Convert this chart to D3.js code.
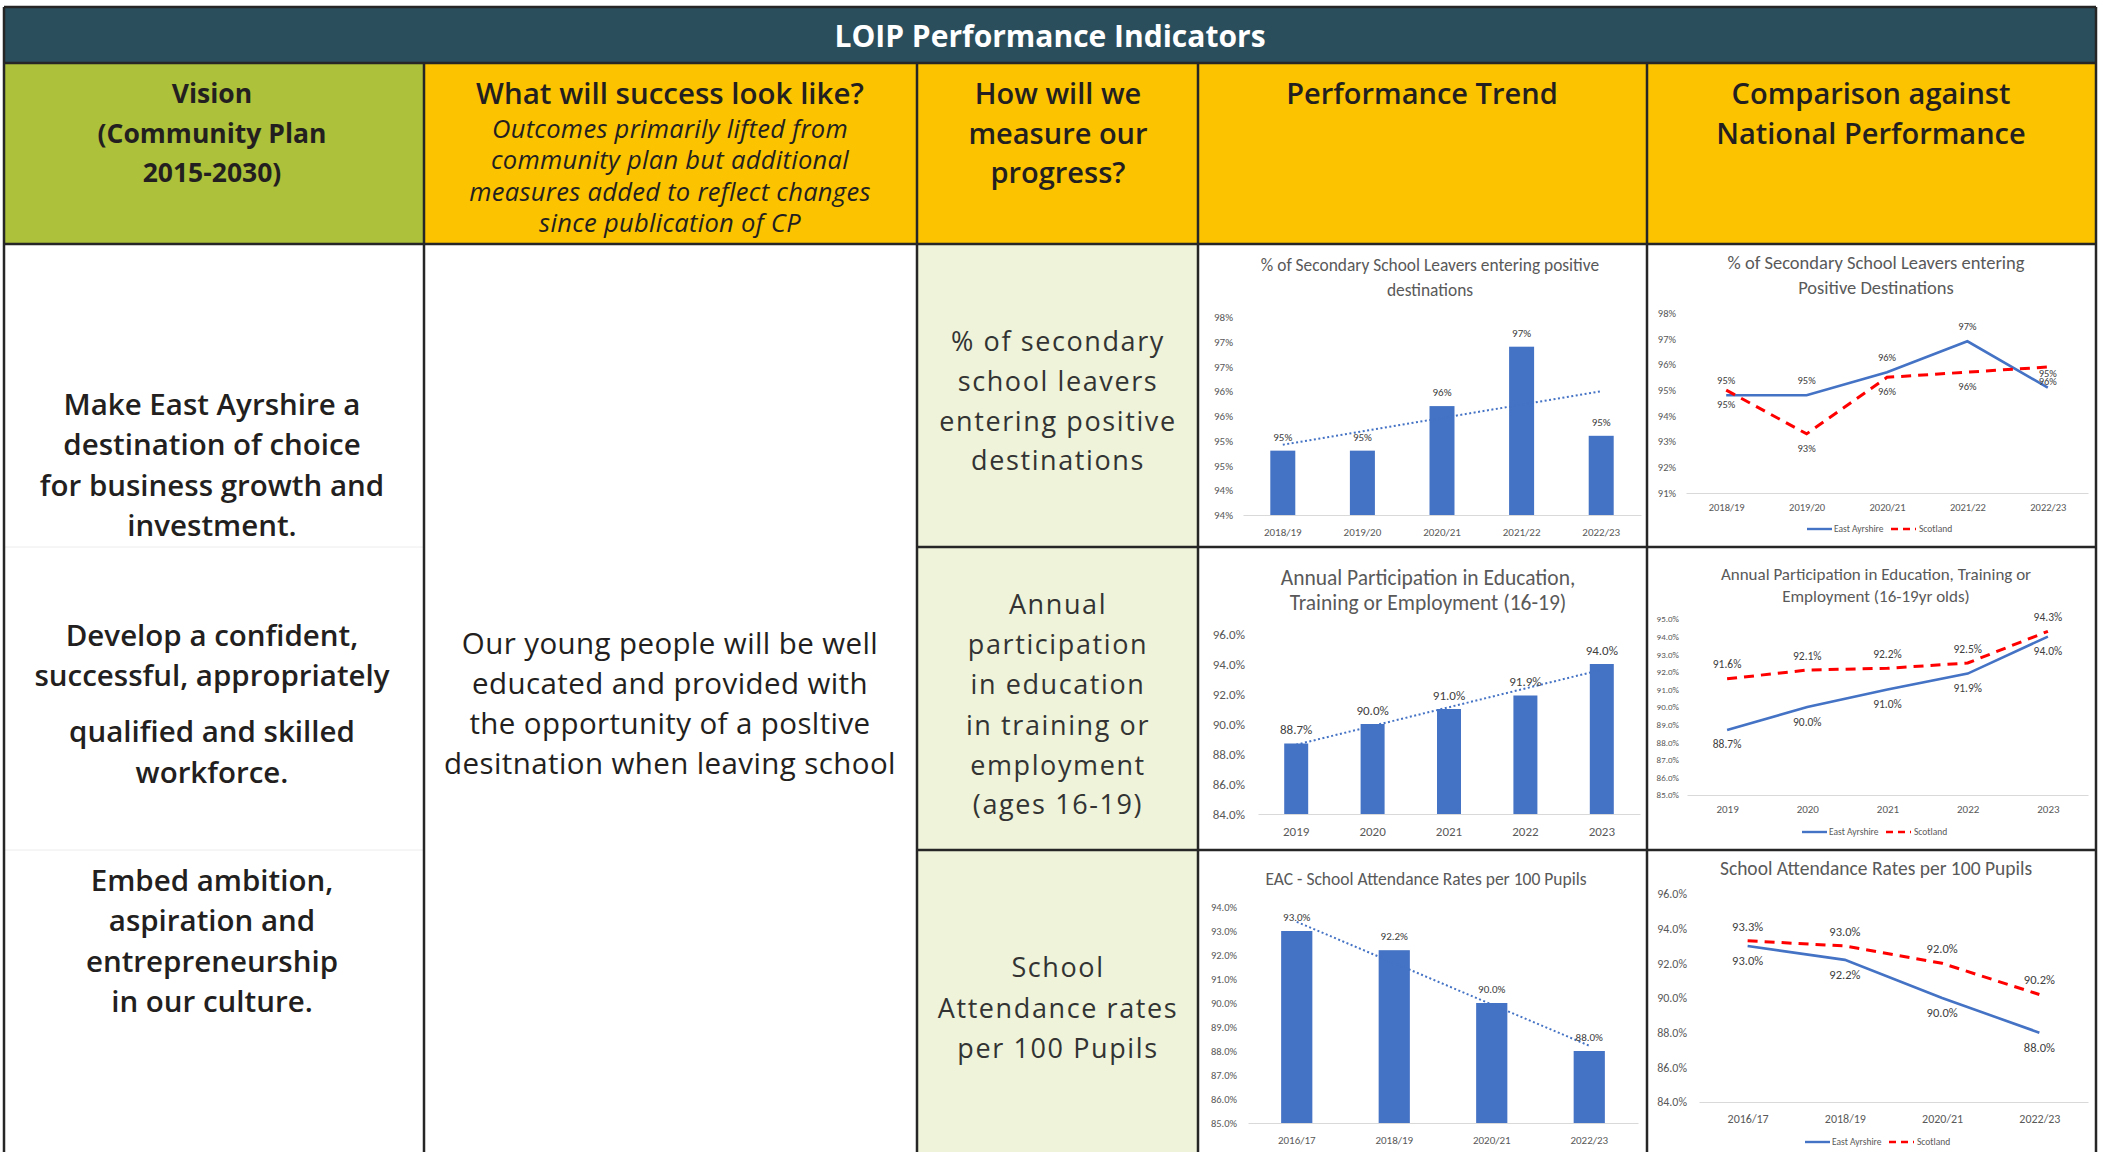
<!DOCTYPE html>
<html>
<head>
<meta charset="utf-8">
<script src="https://cdn.jsdelivr.net/npm/d3@7"></script>
<style>
  body { margin: 0; background: #fff; }
  svg { display: block; }
</style>
</head>
<body>
<div id="wrapper"></div>
<script>
// 1. Data

// positive destinations
const destYears = ['2018/19', '2019/20', '2020/21', '2021/22', '2022/23'];
const destEA = [94.8, 94.8, 95.7, 96.9, 95.1];
const destScot = [95.0, 93.3, 95.5, 95.7, 95.9];
const destTrendTicks = [93.5, 94, 94.5, 95, 95.5, 96, 96.5, 97, 97.5];
const destCompTicks = [91, 92, 93, 94, 95, 96, 97, 98];

// participation 16-19
const partYears = ['2019', '2020', '2021', '2022', '2023'];
const partEA = [88.7, 90.0, 91.0, 91.9, 94.0];
const partScot = [91.6, 92.1, 92.2, 92.5, 94.3];
const partTrendTicks = [84, 86, 88, 90, 92, 94, 96];
const partCompTicks = [85, 86, 87, 88, 89, 90, 91, 92, 93, 94, 95];

// attendance
const attYears = ['2016/17', '2018/19', '2020/21', '2022/23'];
const attEA = [93.0, 92.2, 90.0, 88.0];
const attScot = [93.3, 93.0, 92.0, 90.2];
const attTrendTicks = [85, 86, 87, 88, 89, 90, 91, 92, 93, 94];
const attCompTicks = [84, 86, 88, 90, 92, 94, 96];

const pct0 = v => d3.format('.0f')(v) + '%';
const pct1 = v => d3.format('.1f')(v) + '%';

// 2. Dimensions

const W = 2103, H = 1152;
const cols = [4, 424, 917, 1198, 1647, 2096];
const rows = [7, 63, 244, 547, 850, 1152];

const headFont = '"Open Sans", Lato, sans-serif';
const chartFont = 'Carlito, Lato, "Open Sans", sans-serif';
const blue = '#4472c4';
const red = '#ff0000';

// 3. Draw canvas

const svg = d3.select('#wrapper')
  .append('svg')
  .attr('width', W)
  .attr('height', H);

svg.append('rect').attr('width', W).attr('height', H).attr('fill', '#fff');

// title bar + header cells
svg.append('rect')
  .attr('x', cols[0]).attr('y', rows[0])
  .attr('width', cols[5] - cols[0]).attr('height', rows[1] - rows[0])
  .attr('fill', '#2b4e5c');
svg.append('rect')
  .attr('x', cols[0]).attr('y', rows[1])
  .attr('width', cols[1] - cols[0]).attr('height', rows[2] - rows[1])
  .attr('fill', '#adc13a');
svg.append('rect')
  .attr('x', cols[1]).attr('y', rows[1])
  .attr('width', cols[5] - cols[1]).attr('height', rows[2] - rows[1])
  .attr('fill', '#fcc300');
svg.append('rect')
  .attr('x', cols[2]).attr('y', rows[2])
  .attr('width', cols[3] - cols[2]).attr('height', rows[5] - rows[2])
  .attr('fill', '#eef3da');

// faint merged-cell lines in the vision column
[rows[3], rows[4]].forEach(y => {
  svg.append('line')
    .attr('x1', cols[0]).attr('x2', cols[1]).attr('y1', y).attr('y2', y)
    .attr('stroke', '#ececec').attr('stroke-width', 1);
});

function textLines(lines, x, ys, size, weight, opts = {}) {
  lines.forEach((l, i) => {
    svg.append('text')
      .attr('x', x)
      .attr('y', ys[i])
      .attr('dy', '0.35em')
      .attr('text-anchor', 'middle')
      .attr('font-family', opts.family || headFont)
      .attr('font-size', size)
      .attr('font-weight', weight)
      .attr('font-style', opts.italic ? 'italic' : 'normal')
      .attr('letter-spacing', opts.spacing || 0)
      .attr('fill', opts.fill || '#231f20')
      .text(l);
  });
}

// header texts
textLines(['LOIP Performance Indicators'], 1050, [36], 30, 700, {fill: '#fff'});
textLines(['Vision', '(Community Plan', '2015-2030)'], 212, [94, 134, 173], 26.5, 700);
textLines(['What will success look like?'], 670, [94], 29.5, 600);
textLines(['Outcomes primarily lifted from', 'community plan but additional',
  'measures added to reflect changes', 'since publication of CP'],
  670, [129, 160, 192, 223], 25.5, 400, {italic: true, spacing: 0.3});
textLines(['How will we', 'measure our', 'progress?'], 1058, [94, 134, 173], 29, 600);
textLines(['Performance Trend'], 1422, [94], 29, 600);
textLines(['Comparison against', 'National Performance'], 1871, [94, 134], 29, 600);

// vision column
textLines(['Make East Ayrshire a', 'destination of choice', 'for business growth and', 'investment.'],
  212, [405, 445, 486, 526], 29.5, 600);
textLines(['Develop a confident,', 'successful, appropriately'], 212, [636, 676], 29.5, 600);
textLines(['qualified and skilled', 'workforce.'], 212, [732, 773], 29.5, 600);
textLines(['Embed ambition,', 'aspiration and', 'entrepreneurship', 'in our culture.'],
  212, [881, 921, 962, 1002], 29.5, 600);

// outcome column
textLines(['Our young people will be well', 'educated and provided with',
  'the opportunity of a posltive', 'desitnation when leaving school'],
  670, [644, 684, 724, 764], 29.5, 400, {spacing: 0.4});

// measure column
textLines(['% of secondary', 'school leavers', 'entering positive', 'destinations'],
  1058, [342, 382, 422, 461], 27, 400, {spacing: 1.6, fill: '#333'});
textLines(['Annual', 'participation', 'in education', 'in training or', 'employment', '(ages 16-19)'],
  1058, [605, 645, 685, 726, 766, 805], 27, 400, {spacing: 1.6, fill: '#333'});
textLines(['School', 'Attendance rates', 'per 100 Pupils'],
  1058, [968, 1009, 1049], 27, 400, {spacing: 1.6, fill: '#333'});

// 4. Charts

function styleAxis(sel, fs) {
  sel.attr('font-family', chartFont).attr('font-size', fs);
  sel.selectAll('text').attr('fill', '#595959');
}

function chartTitle(lines, cx, ys, fs) {
  lines.forEach((l, i) => {
    svg.append('text')
      .attr('x', cx).attr('y', ys[i]).attr('dy', '0.35em')
      .attr('text-anchor', 'middle')
      .attr('font-family', chartFont)
      .attr('font-size', fs)
      .attr('fill', '#595959')
      .text(l);
  });
}

function yAxis(y, o) {
  svg.append('g')
    .attr('transform', `translate(${o.x0},0)`)
    .call(d3.axisLeft(y).tickValues(o.ticks).tickFormat(o.tickFmt).tickSize(0).tickPadding(o.yPad))
    .call(a => a.select('.domain').remove())
    .call(a => styleAxis(a, o.yFs));
}

function xAxis(x, o) {
  svg.append('g')
    .attr('transform', `translate(0,${o.yb})`)
    .call(d3.axisBottom(x).tickSize(0).tickSizeOuter(0).tickPadding(o.xLabelY - o.yb - 0.35 * o.xFs))
    .call(a => a.select('.domain').attr('stroke', '#d9d9d9').attr('stroke-width', 1.2))
    .call(a => styleAxis(a, o.xFs));
}

function barChart(o) {
  chartTitle(o.title, o.titleX, o.titleY, o.titleFs);
  const x = d3.scaleBand().domain(o.cats).range([o.x0, o.x1])
    .paddingInner(o.pad).paddingOuter(o.pad / 2);
  const y = d3.scaleLinear().domain(o.domain).range([o.yb, o.yt]);
  yAxis(y, o);
  xAxis(x, o);

  svg.append('g').selectAll('rect')
    .data(o.values)
    .join('rect')
    .attr('x', (d, i) => x(o.cats[i]))
    .attr('y', d => y(d))
    .attr('width', x.bandwidth())
    .attr('height', d => o.yb - y(d))
    .attr('fill', blue);

  // linear trendline
  const n = o.values.length;
  const mx = d3.mean(d3.range(n));
  const my = d3.mean(o.values);
  const slope = d3.sum(o.values, (v, i) => (i - mx) * (v - my)) / d3.sum(d3.range(n), i => (i - mx) ** 2);
  const cx = i => x(o.cats[i]) + x.bandwidth() / 2;
  svg.append('line')
    .attr('x1', cx(0)).attr('y1', y(my - slope * mx))
    .attr('x2', cx(n - 1)).attr('y2', y(my + slope * (n - 1 - mx)))
    .attr('stroke', blue).attr('stroke-width', 2)
    .attr('stroke-dasharray', '2,2.5');

  svg.append('g').selectAll('text')
    .data(o.values)
    .join('text')
    .attr('x', (d, i) => cx(i))
    .attr('y', d => y(d) - 14)
    .attr('dy', '0.35em')
    .attr('text-anchor', 'middle')
    .attr('font-family', chartFont)
    .attr('font-size', o.labelFs)
    .attr('fill', '#404040')
    .text(o.labelFmt);
}

function lineChart(o) {
  chartTitle(o.title, o.titleX, o.titleY, o.titleFs);
  const x = d3.scalePoint().domain(o.cats).range([o.x0, o.x1]).padding(0.5);
  const y = d3.scaleLinear().domain(o.domain).range([o.yb, o.yt]);
  yAxis(y, o);
  xAxis(x, o);

  const line = d3.line().x((d, i) => x(o.cats[i])).y(d => y(d));
  o.series.forEach(s => {
    svg.append('path')
      .attr('d', line(s.values))
      .attr('fill', 'none')
      .attr('stroke', s.color)
      .attr('stroke-width', s.dash ? 3 : 2.6)
      .attr('stroke-dasharray', s.dash || null);

    svg.append('g').selectAll('text')
      .data(s.values)
      .join('text')
      .attr('x', (d, i) => x(o.cats[i]))
      .attr('y', d => y(d) + s.side * 14.5)
      .attr('dy', '0.35em')
      .attr('text-anchor', 'middle')
      .attr('font-family', chartFont)
      .attr('font-size', o.labelFs)
      .attr('fill', '#404040')
      .text(o.labelFmt);
  });

  // legend
  const lg = svg.append('g').attr('transform', `translate(${o.legendX},${o.legendY})`);
  const items = [
    {name: 'East Ayrshire', color: blue, dash: null, x: 0, w: 25, tx: 27},
    {name: 'Scotland', color: red, dash: '7,5', x: 84, w: 25, tx: 112},
  ];
  items.forEach(it => {
    lg.append('line')
      .attr('x1', it.x).attr('x2', it.x + it.w)
      .attr('stroke', it.color).attr('stroke-width', it.dash ? 2.6 : 2.4)
      .attr('stroke-dasharray', it.dash);
    lg.append('text')
      .attr('x', it.tx).attr('dy', '0.35em')
      .attr('font-family', chartFont).attr('font-size', 9.5)
      .attr('fill', '#595959')
      .text(it.name);
  });
}

// row 1
barChart({
  title: ['% of Secondary School Leavers entering positive', 'destinations'],
  titleX: 1430, titleY: [265, 290], titleFs: 17.4,
  cats: destYears, values: destEA,
  domain: [93.5, 97.5], ticks: destTrendTicks, tickFmt: pct0, labelFmt: pct0,
  x0: 1243, x1: 1641, yb: 515, yt: 317, pad: 0.686,
  yPad: 10, yFs: 11, xLabelY: 532, xFs: 11, labelFs: 11,
});
lineChart({
  title: ['% of Secondary School Leavers entering', 'Positive Destinations'],
  titleX: 1876, titleY: [263, 288], titleFs: 18.5,
  cats: destYears, domain: [91, 98], ticks: destCompTicks, tickFmt: pct0, labelFmt: pct0,
  series: [
    {values: destEA, color: blue, dash: null, side: -1},
    {values: destScot, color: red, dash: '10,7', side: 1},
  ],
  x0: 1686, x1: 2088, yb: 493, yt: 313,
  yPad: 10, yFs: 10.5, xLabelY: 507, xFs: 10.5, labelFs: 10.5,
  legendX: 1807, legendY: 529,
});

// row 2
barChart({
  title: ['Annual Participation in Education,', 'Training or Employment (16-19)'],
  titleX: 1428, titleY: [577, 602], titleFs: 21.5,
  cats: partYears, values: partEA,
  domain: [84, 96], ticks: partTrendTicks, tickFmt: pct1, labelFmt: pct1,
  x0: 1258, x1: 1640, yb: 814, yt: 634, pad: 0.686,
  yPad: 13, yFs: 13, xLabelY: 831, xFs: 13, labelFs: 13,
});
lineChart({
  title: ['Annual Participation in Education, Training or', 'Employment (16-19yr olds)'],
  titleX: 1876, titleY: [574, 596], titleFs: 17,
  cats: partYears, domain: [85, 95], ticks: partCompTicks, tickFmt: pct1, labelFmt: pct1,
  series: [
    {values: partEA, color: blue, dash: null, side: 1},
    {values: partScot, color: red, dash: '10,7', side: -1},
  ],
  x0: 1687, x1: 2088, yb: 795, yt: 619,
  yPad: 8, yFs: 9, xLabelY: 809, xFs: 11, labelFs: 11.5,
  legendX: 1802, legendY: 832,
});

// row 3
barChart({
  title: ['EAC - School Attendance Rates per 100 Pupils'],
  titleX: 1426, titleY: [879], titleFs: 17.5,
  cats: attYears, values: attEA,
  domain: [85, 94], ticks: attTrendTicks, tickFmt: pct1, labelFmt: pct1,
  x0: 1248, x1: 1638, yb: 1123, yt: 907, pad: 0.68,
  yPad: 11, yFs: 10.5, xLabelY: 1140, xFs: 11, labelFs: 11,
});
lineChart({
  title: ['School Attendance Rates per 100 Pupils'],
  titleX: 1876, titleY: [868], titleFs: 19.5,
  cats: attYears, domain: [84, 96], ticks: attCompTicks, tickFmt: pct1, labelFmt: pct1,
  series: [
    {values: attEA, color: blue, dash: null, side: 1},
    {values: attScot, color: red, dash: '10,7', side: -1},
  ],
  x0: 1699, x1: 2088, yb: 1102, yt: 894,
  yPad: 12, yFs: 12, xLabelY: 1119, xFs: 12, labelFs: 12.5,
  legendX: 1805, legendY: 1142,
});

// 5. Grid lines on top

const gridColor = '#262626';
cols.forEach((x, i) => {
  svg.append('line')
    .attr('x1', x).attr('x2', x)
    .attr('y1', (i === 0 || i === 5) ? rows[0] : rows[1]).attr('y2', H)
    .attr('stroke', gridColor).attr('stroke-width', 2.5);
});
[rows[0], rows[1], rows[2]].forEach(y => {
  svg.append('line')
    .attr('x1', cols[0]).attr('x2', cols[5]).attr('y1', y).attr('y2', y)
    .attr('stroke', gridColor).attr('stroke-width', 2.5);
});
[rows[3], rows[4]].forEach(y => {
  svg.append('line')
    .attr('x1', cols[2]).attr('x2', cols[5]).attr('y1', y).attr('y2', y)
    .attr('stroke', gridColor).attr('stroke-width', 2.5);
});
</script>
</body>
</html>
